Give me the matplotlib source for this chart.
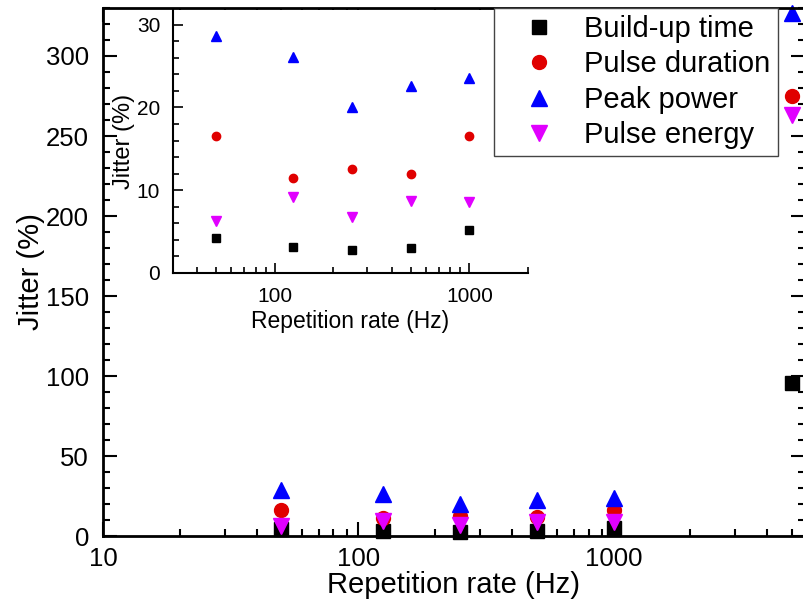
import numpy as np
import matplotlib
matplotlib.use("Agg")
import matplotlib.pyplot as plt
from matplotlib.ticker import MultipleLocator, LogLocator, FuncFormatter, NullFormatter

plt.rcParams['font.family'] = ['Liberation Sans', 'DejaVu Sans']

# data
rate = [50, 125, 250, 500, 1000, 5000]
buildup = [4.2, 3.15, 2.75, 3.0, 5.2, 95.5]
duration = [16.5, 11.5, 12.5, 12.0, 16.5, 275]
peak = [28.6, 26.1, 20.0, 22.6, 23.6, 327]
energy = [6.2, 9.2, 6.7, 8.7, 8.5, 263]

# inset only shows the 50..1000 Hz points
n_in = 5

red = '#e00000'
blue = '#0000ff'
mag = '#e100ff'

fig = plt.figure(figsize=(8.04, 6.06), dpi=100)
ax = fig.add_axes([0.128, 0.1155, 0.873, 0.8713])

h1, = ax.plot(rate, buildup, 's', color='black', ms=9.5, label='Build-up time', clip_on=False)
h2, = ax.plot(rate, duration, 'o', color=red, ms=10, label='Pulse duration', clip_on=False)
h3, = ax.plot(rate, peak, '^', color=blue, ms=12, label='Peak power', clip_on=False)
h4, = ax.plot(rate, energy, 'v', color=mag, ms=12, label='Pulse energy', clip_on=False)

ax.set_xscale('log')
ax.set_xlim(10, 5610)
ax.set_ylim(0, 330)
ax.xaxis.set_major_locator(LogLocator(base=10))
ax.xaxis.set_minor_locator(LogLocator(base=10, subs=np.arange(2, 10)))
ax.xaxis.set_major_formatter(FuncFormatter(lambda v, p: '%d' % v))
ax.xaxis.set_minor_formatter(NullFormatter())
ax.yaxis.set_major_locator(MultipleLocator(50))
ax.yaxis.set_minor_locator(MultipleLocator(10))
ax.tick_params(which='both', direction='in', top=True, right=True, width=1.5, labelsize=18.5)
ax.tick_params(which='major', length=10)
ax.tick_params(axis='x', which='major', pad=8)
ax.tick_params(axis='y', which='major', pad=10)
ax.tick_params(which='minor', length=5)
for s in ax.spines.values():
    s.set_linewidth(2)
ax.set_xlabel('Repetition rate (Hz)', fontsize=21, labelpad=0)
ax.set_ylabel('Jitter (%)', fontsize=21, labelpad=1)

# inset
ins = fig.add_axes([0.2148, 0.55, 0.4419, 0.4335])
ins.plot(rate[:n_in], buildup[:n_in], 's', color='black', ms=5.5)
ins.plot(rate[:n_in], duration[:n_in], 'o', color=red, ms=6)
ins.plot(rate[:n_in], peak[:n_in], '^', color=blue, ms=7)
ins.plot(rate[:n_in], energy[:n_in], 'v', color=mag, ms=7)
ins.set_xscale('log')
ins.set_xlim(30, 2000)
ins.set_ylim(0, 31.8)
ins.xaxis.set_major_locator(LogLocator(base=10))
ins.xaxis.set_minor_locator(LogLocator(base=10, subs=np.arange(2, 10)))
ins.xaxis.set_major_formatter(FuncFormatter(lambda v, p: '%d' % v))
ins.xaxis.set_minor_formatter(NullFormatter())
ins.yaxis.set_major_locator(MultipleLocator(10))
ins.yaxis.set_minor_locator(MultipleLocator(2))
ins.spines['top'].set_visible(False)
ins.spines['right'].set_visible(False)
for s in ['left', 'bottom']:
    ins.spines[s].set_linewidth(1.5)
ins.tick_params(which='both', direction='in', width=1.2, labelsize=15)
ins.tick_params(which='major', length=7)
ins.tick_params(axis='x', which='major', pad=10)
ins.tick_params(axis='y', which='major', pad=9)
ins.tick_params(which='minor', length=4)
ins.set_xlabel('Repetition rate (Hz)', fontsize=16.5, labelpad=3)
ins.set_ylabel('Jitter (%)', fontsize=17, labelpad=1)

# legend on top of the inset
leg = fig.legend([h1, h2, h3, h4], [h.get_label() for h in (h1, h2, h3, h4)],
                 loc='upper left', bbox_to_anchor=(0.614, 0.987),
                 borderaxespad=0, fontsize=21, frameon=True, fancybox=False, framealpha=1,
                 edgecolor='#444444', labelspacing=0.25, handletextpad=0.25, borderpad=0.25,
                 handlelength=2.6)
leg.get_frame().set_linewidth(1)

fig.savefig('out.png', dpi=100)
